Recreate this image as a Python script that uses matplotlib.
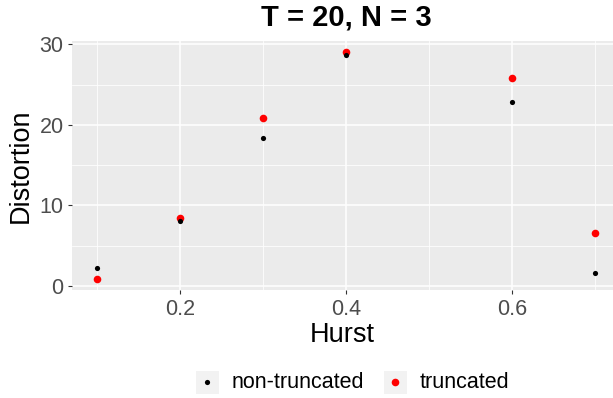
import matplotlib
matplotlib.use("Agg")
import matplotlib.pyplot as plt
from matplotlib.lines import Line2D
from matplotlib.patches import Rectangle

plt.rcParams['font.family'] = ['Liberation Sans', 'DejaVu Sans']

# data
hurst = [0.1, 0.2, 0.3, 0.4, 0.6, 0.7]
non_truncated = [2.24, 8.04, 18.4, 28.7, 22.8, 1.6]
truncated = [0.87, 8.45, 20.9, 29.0, 25.8, 6.55]
series_names = ["non-truncated", "truncated"]
title = "T = 20, N = 3"

fig = plt.figure(figsize=(6.13, 3.98), dpi=100)
ax = fig.add_axes([72/613, 0.2704, 541/613, 0.6266])

# ggplot grey panel
ax.set_facecolor("#EBEBEB")
for s in ax.spines.values():
    s.set_visible(False)
ax.set_xlim(0.07, 0.7217)
ax.set_ylim(-0.54, 30.4)
ax.set_xticks([0.2, 0.4, 0.6])
ax.set_xticklabels(["0.2", "0.4", "0.6"])
ax.set_xticks([0.1, 0.3, 0.5, 0.7], minor=True)
ax.set_yticks([0, 10, 20, 30])
ax.set_yticks([5, 15, 25], minor=True)
ax.grid(which="major", color="white", linewidth=1.1)
ax.grid(which="minor", color="white", linewidth=0.55)
ax.set_axisbelow(True)
ax.tick_params(which="major", length=3, width=0.8, color="#333333",
               labelsize=15.5, labelcolor="#4D4D4D", pad=3)
ax.tick_params(which="minor", length=0)

ax.scatter(hurst, truncated, s=30, color="red", zorder=3, linewidths=0)
ax.scatter(hurst, non_truncated, s=14, color="black", zorder=4, linewidths=0)

ax.set_xlabel("Hurst", fontsize=19.5, labelpad=2)
ax.set_ylabel("Distortion", fontsize=19.5, labelpad=4)

fig.text(346/613, 1 - 17/398, title, fontsize=21, fontweight="bold",
         ha="center", va="center")

# legend drawn ggplot style, with grey key boxes
key_y = 1 - 382/398
keys = [(207, "black", 14, 232), (395, "red", 30, 420)]
for (kx, col, size, tx), name in zip(keys, series_names):
    fig.patches.append(Rectangle(((kx - 11.5)/613, key_y - 11.5/398), 23/613, 23/398,
                                 transform=fig.transFigure, facecolor="#F2F2F2",
                                 edgecolor="none"))
    fig.lines.append(Line2D([kx/613], [key_y], transform=fig.transFigure,
                            marker="o", markersize=size ** 0.5, color=col,
                            markeredgewidth=0, linestyle="none"))
    fig.text(tx/613, key_y, name, fontsize=15.5, va="center", ha="left")

fig.savefig("out.png", dpi=100)
